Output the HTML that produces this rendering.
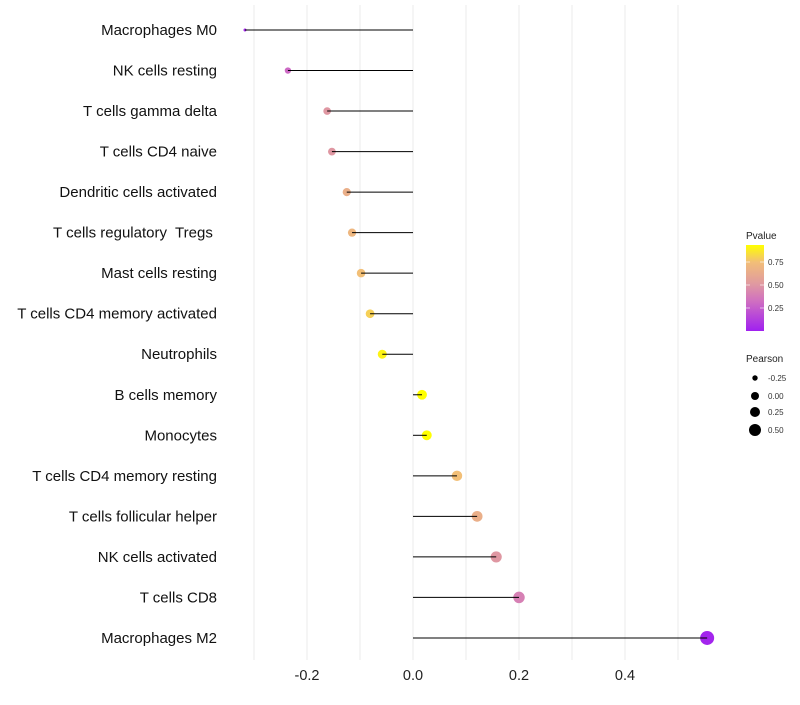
<!DOCTYPE html>
<html><head><meta charset="utf-8"><style>
body{margin:0;background:#fff;font-family:"Liberation Sans",sans-serif}
svg text{font-family:"Liberation Sans",sans-serif;white-space:pre}
</style></head><body>
<svg id="chart" width="800" height="700">
<defs><linearGradient id="pg" x1="0" y1="1" x2="0" y2="0">
<stop offset="0" stop-color="#a020f0"/><stop offset="0.35" stop-color="#d070c0"/><stop offset="0.55" stop-color="#e09aa0"/><stop offset="0.8" stop-color="#f2be78"/><stop offset="1" stop-color="#ffff00"/>
</linearGradient></defs>
<g id="grid"></g>
<g id="points"></g>
<g id="marks"></g>
<g id="ylabels"></g>
<g id="xticks"></g>
<g>
<text x="746" y="239" font-size="10" fill="#222">Pvalue</text>
<rect x="746" y="245" width="18" height="86" fill="url(#pg)"/>
<line x1="746" x2="750" y1="262" y2="262" stroke="#fff" opacity="0.6"/><line x1="760" x2="764" y1="262" y2="262" stroke="#fff" opacity="0.6"/>
<line x1="746" x2="750" y1="285" y2="285" stroke="#fff" opacity="0.6"/><line x1="760" x2="764" y1="285" y2="285" stroke="#fff" opacity="0.6"/>
<line x1="746" x2="750" y1="308" y2="308" stroke="#fff" opacity="0.6"/><line x1="760" x2="764" y1="308" y2="308" stroke="#fff" opacity="0.6"/>
<text x="768" y="265" font-size="8" fill="#333">0.75</text>
<text x="768" y="288" font-size="8" fill="#333">0.50</text>
<text x="768" y="311" font-size="8" fill="#333">0.25</text>
</g>
<g>
<text x="746" y="362" font-size="10" fill="#222">Pearson</text>
<circle cx="755" cy="378" r="2.7" fill="#000"/><text x="768" y="381" font-size="8" fill="#333">-0.25</text>
<circle cx="755" cy="396" r="4" fill="#000"/><text x="768" y="399" font-size="8" fill="#333">0.00</text>
<circle cx="755" cy="412" r="5" fill="#000"/><text x="768" y="415" font-size="8" fill="#333">0.25</text>
<circle cx="755" cy="430" r="6" fill="#000"/><text x="768" y="433" font-size="8" fill="#333">0.50</text>
</g>
</svg>
<script>
const categories=["Macrophages M0","NK cells resting","T cells gamma delta","T cells CD4 naive","Dendritic cells activated","T cells regulatory  Tregs ","Mast cells resting","T cells CD4 memory activated","Neutrophils","B cells memory","Monocytes","T cells CD4 memory resting","T cells follicular helper","NK cells activated","T cells CD8","Macrophages M2"];
const pearson=[-0.317,-0.236,-0.162,-0.153,-0.125,-0.115,-0.098,-0.081,-0.058,0.017,0.026,0.083,0.121,0.157,0.2,0.555];
const pvalue=[0.03,0.3,0.5,0.5,0.65,0.7,0.75,0.8,0.9,0.98,0.95,0.75,0.65,0.5,0.4,0.02];
const xTicks=[-0.2,0,0.2,0.4];
const xTickLabels=["-0.2","0.0","0.2","0.4"];
const gridVals=[-0.3,-0.2,-0.1,0,0.1,0.2,0.3,0.4,0.5];
const NS="http://www.w3.org/2000/svg";
const X=v=>413+v*530;
const Y=i=>30+i*40.53;
const pMin=Math.min(...pearson),pMax=Math.max(...pearson);
const R=v=>1.5+5.5*Math.sqrt((v-pMin)/(pMax-pMin));
const stops=[[0,[160,32,240]],[0.35,[208,112,192]],[0.55,[224,154,160]],[0.8,[242,190,120]],[1,[255,255,0]]];
function col(p){p=Math.min(1,p/0.935);for(let i=1;i<stops.length;i++){if(p<=stops[i][0]){const a=stops[i-1],b=stops[i],t=(p-a[0])/(b[0]-a[0]);return `rgb(${a[1].map((c,k)=>Math.round(c+(b[1][k]-c)*t)).join(',')})`;}}return 'rgb(255,255,0)';}
function mk(tag,attrs,parent){const e=document.createElementNS(NS,tag);for(const k in attrs)e.setAttribute(k,attrs[k]);document.getElementById(parent).appendChild(e);return e;}
gridVals.forEach(v=>{const l=mk('line',{x1:X(v),x2:X(v),y1:5,y2:660,stroke:'#ebebeb','stroke-width':1},'grid');

});
xTicks.forEach((v,i)=>{const t=mk('text',{x:X(v),y:680,'text-anchor':'middle','font-size':14.5,fill:'#222'},'xticks');t.textContent=xTickLabels[i];

});
categories.forEach((c,i)=>{
const t=mk('text',{x:217,y:Y(i)+5,'text-anchor':'end','font-size':15,fill:'#111'},'ylabels');t.textContent=c;


const d=mk('circle',{cx:X(pearson[i]),cy:Y(i),r:R(pearson[i]),fill:col(pvalue[i])},'points');


const l=mk('line',{x1:X(0),x2:X(pearson[i]),y1:Y(i),y2:Y(i),stroke:'#000','stroke-width':1},'marks');


});
</script>
</body></html>
